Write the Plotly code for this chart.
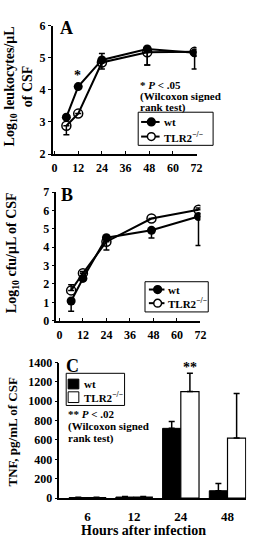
import plotly.graph_objects as go

W, H = 259, 543

# ---- Data ----
hours = [6, 12, 24, 47, 71]

a_wt = [3.15, 4.1, 4.93, 5.27, 5.15]
a_wt_up = [0, 0, 0.2, 0, 0]
a_wt_dn = [0, 0, 0, 0.5, 0.5]
a_ko = [2.88, 3.26, 4.85, 5.17, 5.18]
a_ko_up = [0, 0, 0, 0, 0]
a_ko_dn = [0.28, 0, 0.2, 0.4, 0]

b_wt = [1.07, 2.3, 4.52, 4.92, 5.67]
b_wt_up = [0, 0, 0, 0, 0]
b_wt_dn = [0.55, 0, 0, 0.42, 1.57]
b_ko = [1.65, 2.58, 4.3, 5.56, 6.04]
b_ko_up = [0.3, 0.1, 0, 0, 0.1]
b_ko_dn = [0, 0, 0.45, 0, 0]

c_cats = ["6", "12", "24", "48"]
c_wt = [5, 10, 720, 75]
c_wt_err = [3, 5, 70, 75]
c_ko = [5, 10, 1100, 620]
c_ko_err = [3, 5, 190, 460]

x_ticks = [0, 12, 24, 36, 48, 60, 72]
series_names = ["wt", "TLR2<sup>−/−</sup>"]
FONT = "Liberation Serif"


def fx(p):
    return p / W


def fy(p):
    return 1 - p / H


fig = go.Figure()


def line_pair(wt, wu, wd, ko, ku, kd, xa, ya):
    fig.add_trace(go.Scatter(
        x=hours, y=wt, mode="lines+markers", name=series_names[0],
        line=dict(color="black", width=2),
        marker=dict(symbol="circle", size=9, color="black"),
        error_y=dict(type="data", symmetric=False, array=wu, arrayminus=wd,
                     color="black", thickness=1.5, width=3),
        xaxis=xa, yaxis=ya, showlegend=False))
    fig.add_trace(go.Scatter(
        x=hours, y=ko, mode="lines+markers", name=series_names[1],
        line=dict(color="black", width=2),
        marker=dict(symbol="circle-open", size=9, color="black", line=dict(width=1.5)),
        error_y=dict(type="data", symmetric=False, array=ku, arrayminus=kd,
                     color="black", thickness=1.5, width=3),
        xaxis=xa, yaxis=ya, showlegend=False))


line_pair(a_wt, a_wt_up, a_wt_dn, a_ko, a_ko_up, a_ko_dn, "x", "y")
line_pair(b_wt, b_wt_up, b_wt_dn, b_ko, b_ko_up, b_ko_dn, "x2", "y2")

fig.add_trace(go.Bar(
    x=c_cats, y=c_wt, name=series_names[0],
    marker=dict(color="black", line=dict(color="black", width=1)),
    error_y=dict(type="data", symmetric=False, array=c_wt_err, arrayminus=[0] * 4,
                 color="black", thickness=1.5, width=3),
    xaxis="x3", yaxis="y3", showlegend=False))
fig.add_trace(go.Bar(
    x=c_cats, y=c_ko, name=series_names[1],
    marker=dict(color="white", line=dict(color="black", width=1.2)),
    error_y=dict(type="data", symmetric=False, array=c_ko_err, arrayminus=[0] * 4,
                 color="black", thickness=1.5, width=3),
    xaxis="x3", yaxis="y3", showlegend=False))

tickfont = dict(family=FONT, size=12, color="black", weight="bold")
axis_common = dict(showline=True, linecolor="black", linewidth=1.5, showgrid=False,
                   zeroline=False, tickfont=tickfont, ticks="outside", ticklen=3,
                   tickcolor="black", tickwidth=1.2)
xline = {**axis_common, "ticks": "inside", "ticklabelstandoff": 2}

fig.update_layout(
    width=W, height=H, margin=dict(l=0, r=0, t=0, b=0),
    paper_bgcolor="white", plot_bgcolor="white", showlegend=False,
    barmode="group", bargap=0.22, bargroupgap=0,
    xaxis=dict(domain=[fx(53), fx(201)], range=[-1, 72], tickvals=x_ticks,
               anchor="y", **xline),
    yaxis=dict(domain=[fy(151), fy(19)], range=[2, 6], tickvals=[2, 3, 4, 5, 6],
               anchor="x", **axis_common),
    xaxis2=dict(domain=[fx(57), fx(205)], range=[-1.5, 72], tickvals=x_ticks,
                anchor="y2", **xline),
    yaxis2=dict(domain=[fy(322), fy(190)], range=[0, 7], tickvals=list(range(8)),
                anchor="x2", **axis_common),
    xaxis3=dict(domain=[fx(60), fx(252)], range=[-0.6, 3.4], anchor="y3",
                **{**axis_common, "ticks": "", "ticklabelstandoff": 6,
                   "tickfont": dict(family=FONT, size=13, color="black", weight="bold")}),
    yaxis3=dict(domain=[fy(504), fy(365)], range=[0, 1400], tickvals=list(range(0, 1401, 200)),
                anchor="x3", **axis_common),
)

ann = []
shapes = []


def text(x, y, t, size=11, angle=0, xanchor="center", yanchor="middle", align="center"):
    ann.append(dict(x=fx(x), y=fy(y), xref="paper", yref="paper", text=t, showarrow=False,
                    textangle=angle, xanchor=xanchor, yanchor=yanchor, align=align,
                    font=dict(family=FONT, size=size, color="black", weight="bold")))


def rect(x0, y0, x1, y1, fill="white", lw=1):
    shapes.append(dict(type="rect", xref="paper", yref="paper", x0=fx(x0), x1=fx(x1),
                       y0=fy(y1), y1=fy(y0), fillcolor=fill,
                       line=dict(color="black", width=lw), layer="above"))


def circle(cx, cy, r, fill):
    shapes.append(dict(type="circle", xref="paper", yref="paper", x0=fx(cx - r), x1=fx(cx + r),
                       y0=fy(cy + r), y1=fy(cy - r), fillcolor=fill,
                       line=dict(color="black", width=1.5), layer="above"))


def hline(x0, x1, y):
    shapes.append(dict(type="line", xref="paper", yref="paper", x0=fx(x0), x1=fx(x1),
                       y0=fy(y), y1=fy(y), line=dict(color="black", width=2), layer="above"))


def line_legend(bx0, by0, bx1, by1, lx0, lx1, ys):
    rect(bx0, by0, bx1, by1)
    fills = ["black", "white"]
    for name, fill, y in zip(series_names, fills, ys):
        hline(lx0, lx1, y)
        circle((lx0 + lx1) / 2 + 1, y, 4, fill)
        text(lx1 + 2, y, name, size=11, xanchor="left")


def note(x, y0, lines, dy=12):
    for i, ln in enumerate(lines):
        text(x, y0 + i * dy, ln, size=11, xanchor="left", align="left")


line_legend(141, 108, 218, 142, 144, 163, [118, 133])
line_legend(148, 282, 213, 313, 152, 168, [290, 304])

# bar legend (panel C)
rect(67, 376, 127, 409)
for name, fill, (y0, y1) in zip(series_names, ["black", "white"], [(382, 392), (395, 406)]):
    rect(69, y0, 80, y1, fill=fill)
    text(83, (y0 + y1) / 2, name, size=11, xanchor="left")

# axis titles
text(18, 82, "Log<sub>10</sub> leukocytes/μL<br>of CSF", size=14, angle=-90)
text(12, 252, "Log<sub>10</sub> cfu/μL of CSF", size=14, angle=-90)
text(12, 436, "TNF, pg/mL of CSF", size=13, angle=-90)
text(146, 537, "Hours after infection", size=14)

# panel letters
text(67, 22, "A", size=18)
text(68, 193, "B", size=18)
text(73, 368, "C", size=18)

# significance marks
text(79, 70, "*", size=14)
text(194, 370, "**", size=14)

# notes
note(141, 80, ["* <i>P</i> &lt; .05", "(Wilcoxon signed", "rank test)"], dy=11.5)
note(67, 418, ["** <i>P</i> &lt; .02", "(Wilcoxon signed", "rank test)"], dy=12.5)

fig.update_layout(annotations=ann, shapes=shapes)
fig.write_html("out.html")
